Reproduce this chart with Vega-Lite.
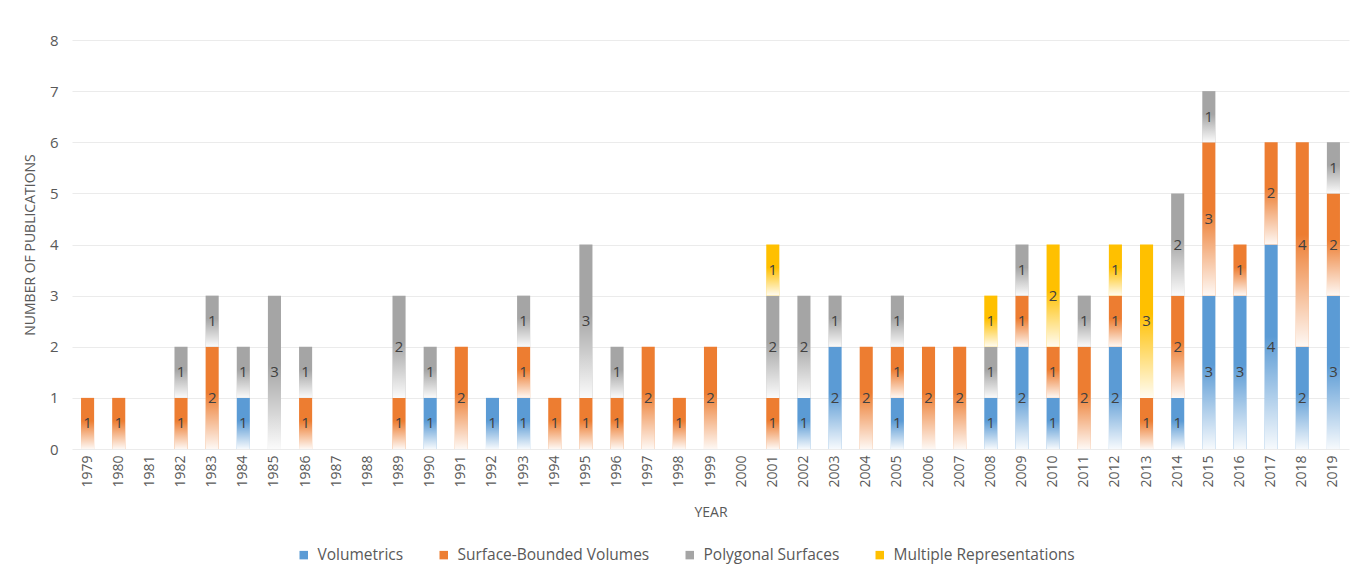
{
  "$schema": "https://vega.github.io/schema/vega-lite/v6.json",
  "autosize": {"type": "none"},
  "width": 1277,
  "height": 409,
  "padding": {"left": 72, "top": 40, "right": 23, "bottom": 133},
  "background": "white",
  "config": {
    "font": "Open Sans",
    "view": {"stroke": null},
    "axis": {"labelColor": "#595959", "titleColor": "#595959", "titleFontWeight": "normal", "labelFont": "Open Sans", "titleFont": "Open Sans"},
    "legend": {"labelFont": "Open Sans"}
  },
  "data": {
    "values": [
      {"year": "1979", "cat": "Surface-Bounded Volumes", "n": 1},
      {"year": "1980", "cat": "Surface-Bounded Volumes", "n": 1},
      {"year": "1982", "cat": "Surface-Bounded Volumes", "n": 1},
      {"year": "1982", "cat": "Polygonal Surfaces", "n": 1},
      {"year": "1983", "cat": "Surface-Bounded Volumes", "n": 2},
      {"year": "1983", "cat": "Polygonal Surfaces", "n": 1},
      {"year": "1984", "cat": "Volumetrics", "n": 1},
      {"year": "1984", "cat": "Polygonal Surfaces", "n": 1},
      {"year": "1985", "cat": "Polygonal Surfaces", "n": 3},
      {"year": "1986", "cat": "Surface-Bounded Volumes", "n": 1},
      {"year": "1986", "cat": "Polygonal Surfaces", "n": 1},
      {"year": "1989", "cat": "Surface-Bounded Volumes", "n": 1},
      {"year": "1989", "cat": "Polygonal Surfaces", "n": 2},
      {"year": "1990", "cat": "Volumetrics", "n": 1},
      {"year": "1990", "cat": "Polygonal Surfaces", "n": 1},
      {"year": "1991", "cat": "Surface-Bounded Volumes", "n": 2},
      {"year": "1992", "cat": "Volumetrics", "n": 1},
      {"year": "1993", "cat": "Volumetrics", "n": 1},
      {"year": "1993", "cat": "Surface-Bounded Volumes", "n": 1},
      {"year": "1993", "cat": "Polygonal Surfaces", "n": 1},
      {"year": "1994", "cat": "Surface-Bounded Volumes", "n": 1},
      {"year": "1995", "cat": "Surface-Bounded Volumes", "n": 1},
      {"year": "1995", "cat": "Polygonal Surfaces", "n": 3},
      {"year": "1996", "cat": "Surface-Bounded Volumes", "n": 1},
      {"year": "1996", "cat": "Polygonal Surfaces", "n": 1},
      {"year": "1997", "cat": "Surface-Bounded Volumes", "n": 2},
      {"year": "1998", "cat": "Surface-Bounded Volumes", "n": 1},
      {"year": "1999", "cat": "Surface-Bounded Volumes", "n": 2},
      {"year": "2001", "cat": "Surface-Bounded Volumes", "n": 1},
      {"year": "2001", "cat": "Polygonal Surfaces", "n": 2},
      {"year": "2001", "cat": "Multiple Representations", "n": 1},
      {"year": "2002", "cat": "Volumetrics", "n": 1},
      {"year": "2002", "cat": "Polygonal Surfaces", "n": 2},
      {"year": "2003", "cat": "Volumetrics", "n": 2},
      {"year": "2003", "cat": "Polygonal Surfaces", "n": 1},
      {"year": "2004", "cat": "Surface-Bounded Volumes", "n": 2},
      {"year": "2005", "cat": "Volumetrics", "n": 1},
      {"year": "2005", "cat": "Surface-Bounded Volumes", "n": 1},
      {"year": "2005", "cat": "Polygonal Surfaces", "n": 1},
      {"year": "2006", "cat": "Surface-Bounded Volumes", "n": 2},
      {"year": "2007", "cat": "Surface-Bounded Volumes", "n": 2},
      {"year": "2008", "cat": "Volumetrics", "n": 1},
      {"year": "2008", "cat": "Polygonal Surfaces", "n": 1},
      {"year": "2008", "cat": "Multiple Representations", "n": 1},
      {"year": "2009", "cat": "Volumetrics", "n": 2},
      {"year": "2009", "cat": "Surface-Bounded Volumes", "n": 1},
      {"year": "2009", "cat": "Polygonal Surfaces", "n": 1},
      {"year": "2010", "cat": "Volumetrics", "n": 1},
      {"year": "2010", "cat": "Surface-Bounded Volumes", "n": 1},
      {"year": "2010", "cat": "Multiple Representations", "n": 2},
      {"year": "2011", "cat": "Surface-Bounded Volumes", "n": 2},
      {"year": "2011", "cat": "Polygonal Surfaces", "n": 1},
      {"year": "2012", "cat": "Volumetrics", "n": 2},
      {"year": "2012", "cat": "Surface-Bounded Volumes", "n": 1},
      {"year": "2012", "cat": "Multiple Representations", "n": 1},
      {"year": "2013", "cat": "Surface-Bounded Volumes", "n": 1},
      {"year": "2013", "cat": "Multiple Representations", "n": 3},
      {"year": "2014", "cat": "Volumetrics", "n": 1},
      {"year": "2014", "cat": "Surface-Bounded Volumes", "n": 2},
      {"year": "2014", "cat": "Polygonal Surfaces", "n": 2},
      {"year": "2015", "cat": "Volumetrics", "n": 3},
      {"year": "2015", "cat": "Surface-Bounded Volumes", "n": 3},
      {"year": "2015", "cat": "Polygonal Surfaces", "n": 1},
      {"year": "2016", "cat": "Volumetrics", "n": 3},
      {"year": "2016", "cat": "Surface-Bounded Volumes", "n": 1},
      {"year": "2017", "cat": "Volumetrics", "n": 4},
      {"year": "2017", "cat": "Surface-Bounded Volumes", "n": 2},
      {"year": "2018", "cat": "Volumetrics", "n": 2},
      {"year": "2018", "cat": "Surface-Bounded Volumes", "n": 4},
      {"year": "2019", "cat": "Volumetrics", "n": 3},
      {"year": "2019", "cat": "Surface-Bounded Volumes", "n": 2},
      {"year": "2019", "cat": "Polygonal Surfaces", "n": 1}
    ]
  },
  "transform": [
    {"stack": "n", "groupby": ["year"], "sort": [{"field": "cat", "order": "descending"}], "as": ["y0", "y1"]},
    {"calculate": "(datum.y0 + datum.y1) / 2", "as": "mid"}
  ],
  "encoding": {
    "x": {
      "field": "year",
      "type": "ordinal",
      "scale": {
        "domain": ["1979","1980","1981","1982","1983","1984","1985","1986","1987","1988","1989","1990","1991","1992","1993","1994","1995","1996","1997","1998","1999","2000","2001","2002","2003","2004","2005","2006","2007","2008","2009","2010","2011","2012","2013","2014","2015","2016","2017","2018","2019"],
        "paddingInner": 0.58,
        "paddingOuter": 0.29
      },
      "axis": {
        "title": "YEAR",
        "titleFontSize": 14,
        "titlePadding": 18,
        "labelAngle": -90,
        "labelFontSize": 14,
        "labelPadding": 6,
        "ticks": false,
        "domain": false,
        "grid": false
      }
    }
  },
  "layer": [
    {
      "mark": {"type": "bar"},
      "encoding": {
        "y": {
          "field": "y0",
          "type": "quantitative",
          "scale": {"domain": [0, 8], "nice": false},
          "axis": {
            "title": "NUMBER OF PUBLICATIONS",
            "titleFontSize": 14,
            "titlePadding": 12,
            "values": [0,1,2,3,4,5,6,7,8],
            "labelOverlap": false,
            "labelFontSize": 15,
            "labelPadding": 14,
            "ticks": false,
            "domain": false,
            "gridColor": "#EBEBEB",
            "gridWidth": 1
          }
        },
        "y2": {"field": "y1"},
        "color": {
          "field": "cat",
          "type": "nominal",
          "scale": {
            "domain": ["Volumetrics", "Surface-Bounded Volumes", "Polygonal Surfaces", "Multiple Representations"],
            "range": ["#5B9BD5", "#ED7D31", "#A5A5A5", "#FFC000"]
          },
          "legend": {
            "title": null,
            "orient": "none",
            "legendX": 224,
            "legendY": 507,
            "direction": "horizontal",
            "symbolType": "square",
            "symbolSize": 72,
            "labelFontSize": 15.5,
            "labelLimit": 0,
            "labelColor": "#595959",
            "columnPadding": 32,
            "labelOffset": 6
          }
        }
      }
    },
    {
      "mark": {
        "type": "bar",
        "color": {
          "gradient": "linear",
          "x1": 0, "y1": 0, "x2": 0, "y2": 1,
          "stops": [
            {"offset": 0, "color": "rgba(255,255,255,0)"},
            {"offset": 0.45, "color": "rgba(255,255,255,0)"},
            {"offset": 1, "color": "rgba(255,255,255,0.95)"}
          ]
        }
      },
      "encoding": {
        "y": {"field": "y0", "type": "quantitative"},
        "y2": {"field": "y1"}
      }
    },
    {
      "mark": {"type": "text", "fontSize": 15, "color": "#404040", "baseline": "middle", "align": "center"},
      "encoding": {
        "y": {"field": "mid", "type": "quantitative"},
        "text": {"field": "n", "type": "quantitative"}
      }
    }
  ]
}
